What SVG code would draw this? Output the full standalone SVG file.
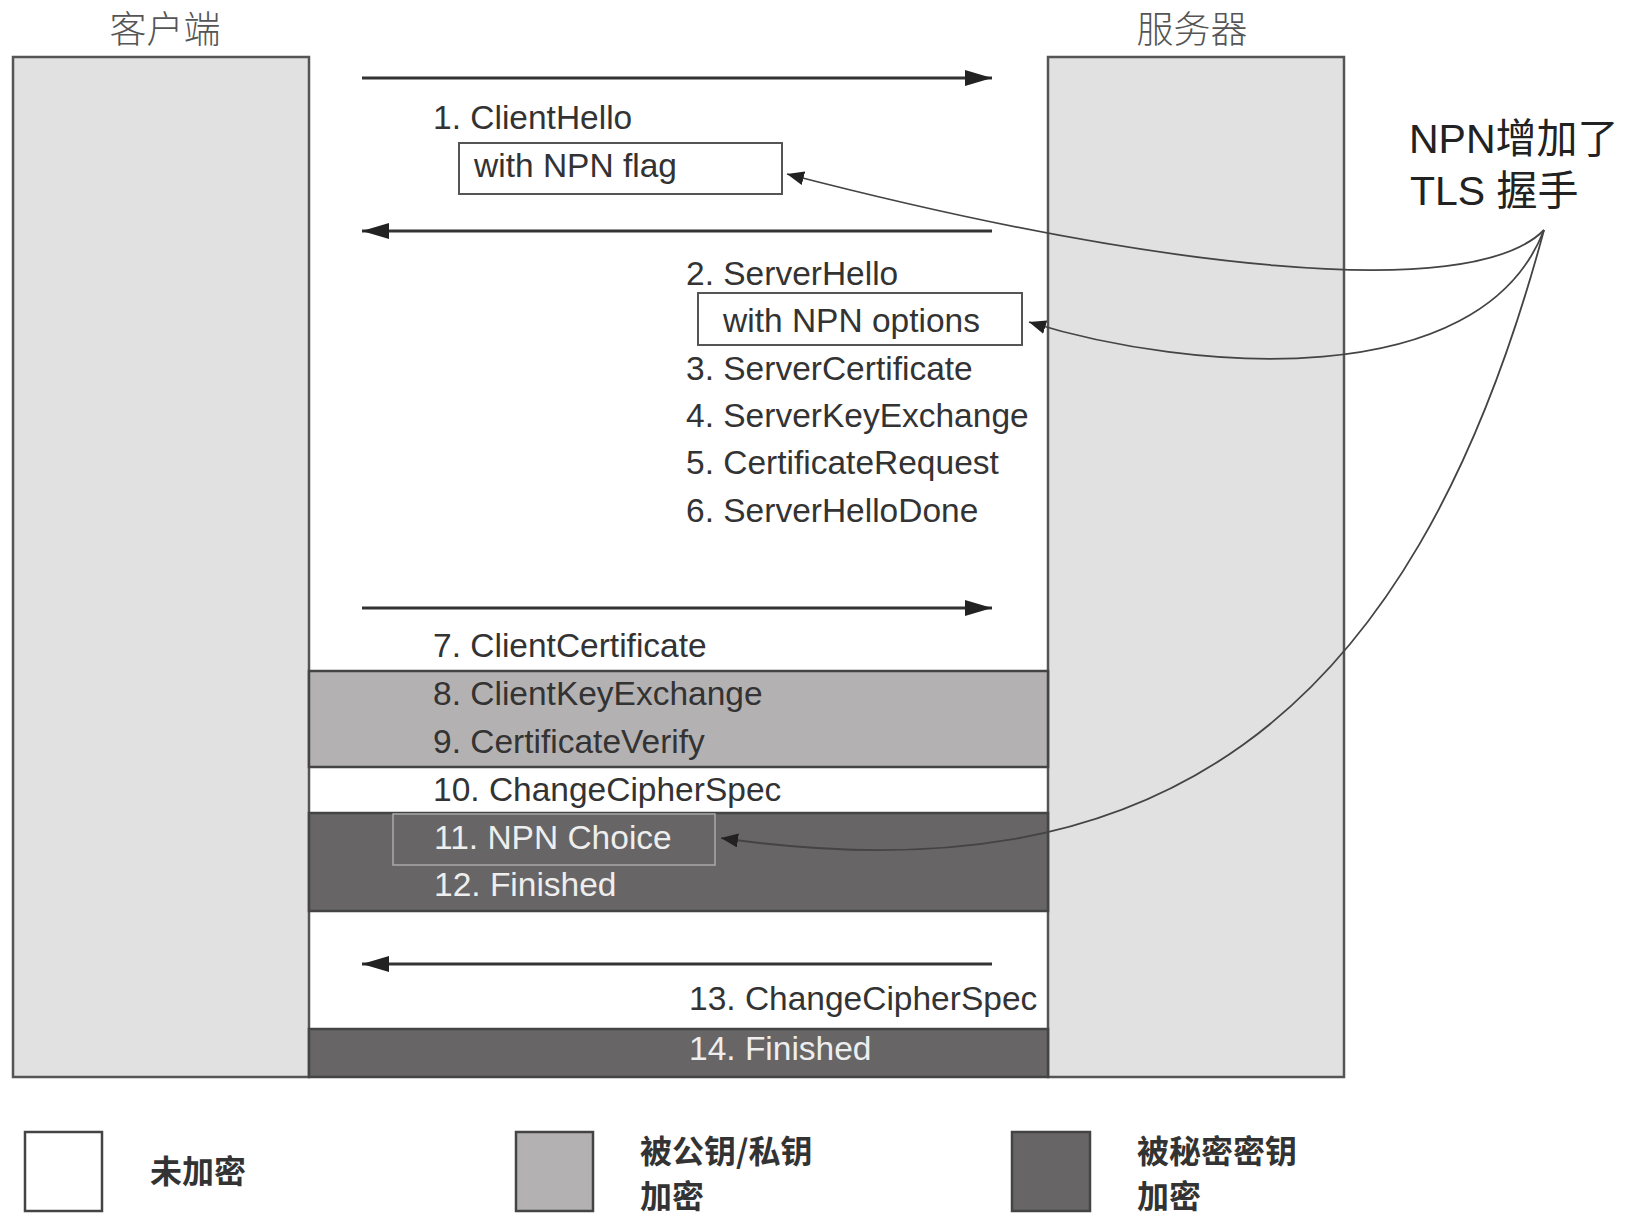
<svg xmlns="http://www.w3.org/2000/svg" width="1628" height="1216" viewBox="0 0 1628 1216">
<style>
.title{font-family:"Noto Sans CJK SC","Noto Sans",sans-serif;font-size:37px;fill:#555;font-weight:300}
.msg{font-family:"Liberation Sans",Arial,sans-serif;font-size:33.5px;fill:#333}
.msgw{font-family:"Liberation Sans",Arial,sans-serif;font-size:33.5px;fill:#eee}
.note{font-family:"Liberation Sans","Noto Sans CJK SC",sans-serif;font-size:41px;fill:#222}
.leg{font-family:"Noto Sans CJK SC",sans-serif;font-size:32px;fill:#333;font-weight:bold}
.lane{fill:#e1e1e1;stroke:#555;stroke-width:2.5}
.band{stroke:#444;stroke-width:2.5}
.arrow{stroke:#333;stroke-width:3;fill:none}
.curve{stroke:#444;stroke-width:1.8;fill:none}
</style>
<defs>
<marker id="ah" markerUnits="userSpaceOnUse" markerWidth="28" markerHeight="16" refX="27" refY="8" orient="auto">
<path d="M0,0 L27,8 L0,16 z" fill="#222"/>
</marker>
<marker id="ch" markerUnits="userSpaceOnUse" markerWidth="18" markerHeight="14" refX="17" refY="7" orient="auto">
<path d="M0,0 L17,7 L0,14 z" fill="#222"/>
</marker>
</defs>
<rect width="1628" height="1216" fill="#fff"/>

<g id="client">
<rect class="lane" x="13" y="57" width="296" height="1020"/>
<text class="title" x="165" y="43" text-anchor="middle">客户端</text>
</g>
<g id="server">
<rect class="lane" x="1048" y="57" width="296" height="1020"/>
<text class="title" x="1192" y="43" text-anchor="middle">服务器</text>
</g>

<g id="bands">
<rect class="band" x="309" y="671" width="739" height="96" fill="#b3b1b2"/>
<rect class="band" x="309" y="813" width="739" height="98" fill="#676566"/>
<rect class="band" x="309" y="1029" width="739" height="48" fill="#676566"/>
</g>

<g id="msg1">
<text class="msg" x="433" y="129">1. ClientHello</text>
<rect x="459" y="143" width="323" height="51" fill="#fff" stroke="#555" stroke-width="2"/>
<text class="msg" x="474" y="177">with NPN flag</text>
</g>
<g id="msg2">
<text class="msg" x="686" y="285">2. ServerHello</text>
<rect x="698" y="293" width="324" height="52" fill="#fff" stroke="#555" stroke-width="2"/>
<text class="msg" x="723" y="332">with NPN options</text>
<text class="msg" x="686" y="380">3. ServerCertificate</text>
<text class="msg" x="686" y="427">4. ServerKeyExchange</text>
<text class="msg" x="686" y="474">5. CertificateRequest</text>
<text class="msg" x="686" y="522">6. ServerHelloDone</text>
</g>
<g id="msg3">
<text class="msg" x="433" y="657">7. ClientCertificate</text>
<text class="msg" x="433" y="705">8. ClientKeyExchange</text>
<text class="msg" x="433" y="753">9. CertificateVerify</text>
<text class="msg" x="433" y="801">10. ChangeCipherSpec</text>
<rect x="393" y="814" width="322" height="51" fill="none" stroke="#aaa" stroke-width="1.5"/>
<text class="msgw" x="434" y="849">11. NPN Choice</text>
<text class="msgw" x="434" y="896">12. Finished</text>
</g>
<g id="msg4">
<text class="msg" x="689" y="1010">13. ChangeCipherSpec</text>
<text class="msgw" x="689" y="1060">14. Finished</text>
</g>

<g id="note">
<text class="note" x="1409" y="153">NPN增加了</text>
<text class="note" x="1410" y="205">TLS 握手</text>
</g>

<g id="connectors">
<line class="arrow" x1="362" y1="78" x2="992" y2="78" marker-end="url(#ah)"/>
<line class="arrow" x1="992" y1="231" x2="362" y2="231" marker-end="url(#ah)"/>
<line class="arrow" x1="362" y1="608" x2="992" y2="608" marker-end="url(#ah)"/>
<line class="arrow" x1="992" y1="964" x2="362" y2="964" marker-end="url(#ah)"/>
<path class="curve" d="M1544,230 C1470,305 1150,268 787,174" marker-end="url(#ch)"/>
<path class="curve" d="M1544,230 C1480,395 1190,372 1029,322" marker-end="url(#ch)"/>
<path class="curve" d="M1544,230 C1410,730 1150,900 721,838" stroke="#333" marker-end="url(#ch)"/>
</g>

<g id="legend">
<rect x="25" y="1132" width="77" height="79" fill="#fff" stroke="#444" stroke-width="2.5"/>
<text class="leg" x="150" y="1183">未加密</text>
<rect x="516" y="1132" width="77" height="79" fill="#b3b1b2" stroke="#444" stroke-width="2.5"/>
<text class="leg" x="640" y="1163">被公钥/私钥</text>
<text class="leg" x="640" y="1208">加密</text>
<rect x="1012" y="1132" width="78" height="79" fill="#676566" stroke="#444" stroke-width="2.5"/>
<text class="leg" x="1137" y="1163">被秘密密钥</text>
<text class="leg" x="1137" y="1208">加密</text>
</g>
</svg>
